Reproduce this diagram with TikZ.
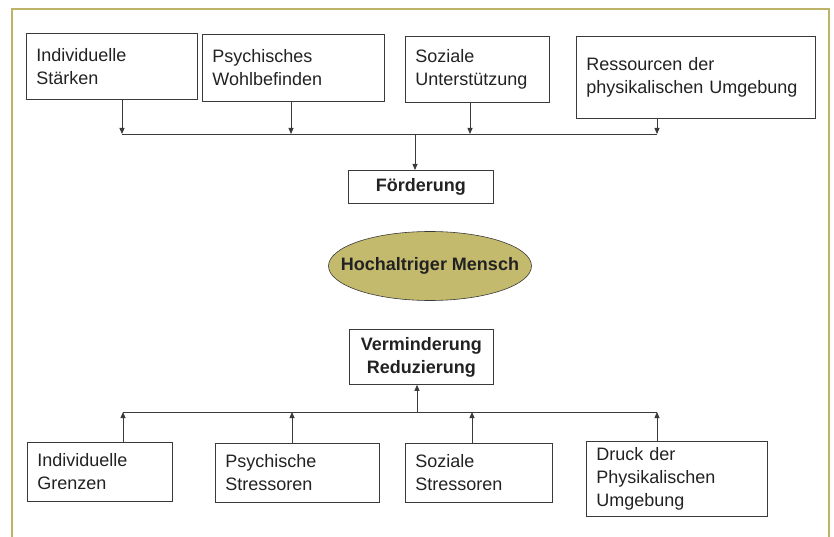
\documentclass[tikz,border=0pt]{standalone}
\usepackage{fontspec}
\setmainfont{Liberation Sans}
\usepackage{xcolor}
\usepackage{tikz}
\usetikzlibrary{shapes.geometric, arrows.meta, positioning}

\definecolor{olive}{HTML}{BDB46A}
\definecolor{olivefill}{HTML}{C4BA6E}
\definecolor{boxline}{HTML}{3A3A3A}
\definecolor{ink}{HTML}{222222}
\tikzstyle{arrow} = [line width=0.8pt, draw=boxline, -{Triangle[length=6pt,width=5pt]}]

\begin{document}
\begin{tikzpicture}[x=1pt, y=-1pt, font=\fontsize{18}{23}\selectfont, text=ink]
    \tikzstyle{factor}=[draw=boxline, line width=0.8pt, anchor=north west, align=left, inner xsep=10pt, inner ysep=0pt, text width=#1-20pt]
    \tikzstyle{goal}=[draw=boxline, line width=0.8pt, anchor=north west, align=center, font=\fontsize{18}{23}\selectfont\bfseries, inner sep=0pt]
    \tikzstyle{person}=[draw=boxline, line width=0.6pt, ellipse, fill=olivefill, minimum width=203pt, minimum height=69pt, inner xsep=-18pt, inner ysep=12pt, font=\fontsize{18}{23}\selectfont\bfseries]

    \useasboundingbox (0,0) rectangle (834,537);
    \draw[olive, line width=1.8pt] (12,560) -- (12,9) -- (829,9) -- (829,560);

    % resources
    \node[factor=171pt, minimum height=66pt] (staerken) at (26,33) {Individuelle\\Stärken};
    \node[factor=182pt, minimum height=67pt] (wohl) at (202,34) {Psychisches\\Wohlbefinden};
    \node[factor=144pt, minimum height=66pt] (unterst) at (405,36) {Soziale\\Unterstützung};
    \node[factor=239pt, minimum height=82pt] (ressourcen) at (576,36) {Ressourcen der\\physikalischen Umgebung};

    \node[goal, minimum width=145pt, minimum height=33pt] (foerd) at (348,170) {Förderung};
    \node[person] (mensch) at (430,266) {Hochaltriger Mensch};
    \node[goal, minimum width=144pt, minimum height=55pt] (verm) at (349,329) {Verminderung\\Reduzierung};

    % stressors
    \node[factor=145pt, minimum height=59pt] (grenzen) at (27,442) {Individuelle\\Grenzen};
    \node[factor=164pt, minimum height=59pt] (psych) at (215,443) {Psychische\\Stressoren};
    \node[factor=147pt, minimum height=59pt] (sozial) at (405,443) {Soziale\\Stressoren};
    \node[factor=181pt, minimum height=75pt] (druck) at (586,441) {Druck der\\Physikalischen\\Umgebung};

    % upper bus
    \coordinate (t1) at (122,134);
    \coordinate (t2) at (291,134);
    \coordinate (t0) at (415,134);
    \coordinate (t3) at (470,134);
    \coordinate (t4) at (657,134);
    \draw[line width=0.8pt, boxline] (t1) -- (t4);
    \draw[arrow] (staerken.south -| t1) -- (t1);
    \draw[arrow] (wohl.south -| t2) -- (t2);
    \draw[arrow] (unterst.south -| t3) -- (t3);
    \draw[arrow] (ressourcen.south -| t4) -- (t4);
    \draw[arrow] (t0) -- (foerd.north -| t0);

    % lower bus
    \coordinate (b1) at (123,412);
    \coordinate (b2) at (292,412);
    \coordinate (b0) at (417,412);
    \coordinate (b3) at (472,412);
    \coordinate (b4) at (657,412);
    \draw[line width=0.8pt, boxline] (b1) -- (b4);
    \draw[arrow] (grenzen.north -| b1) -- (b1);
    \draw[arrow] (psych.north -| b2) -- (b2);
    \draw[arrow] (sozial.north -| b3) -- (b3);
    \draw[arrow] (druck.north -| b4) -- (b4);
    \draw[arrow] (b0) -- (verm.south -| b0);
\end{tikzpicture}
\end{document}
